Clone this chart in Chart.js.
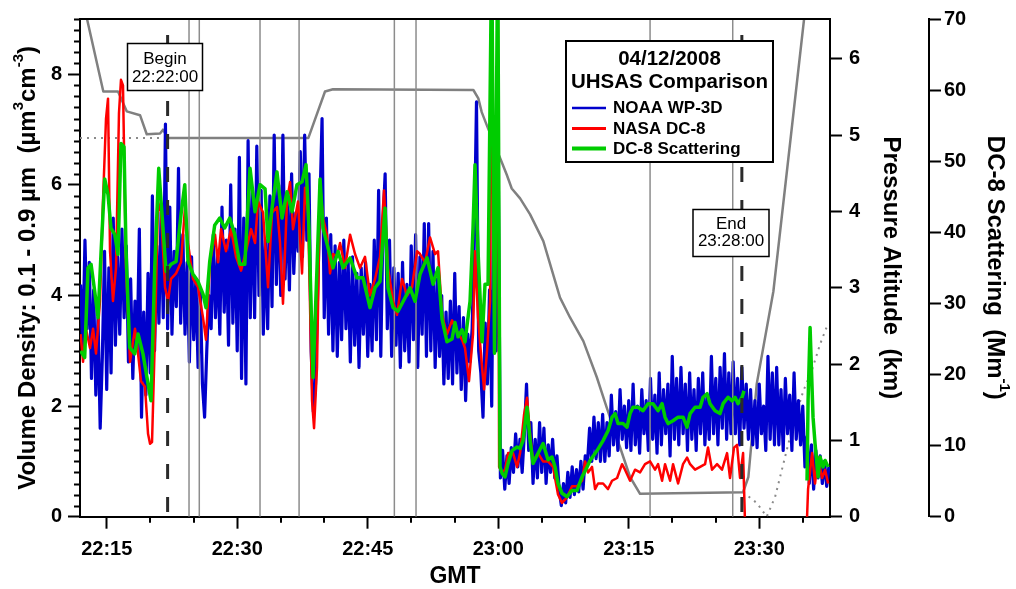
<!DOCTYPE html>
<html>
<head>
<meta charset="utf-8">
<script src="https://cdn.jsdelivr.net/npm/chart.js@4.4.1/dist/chart.umd.min.js"></script>
<style>
  html, body { margin: 0; padding: 0; background: #fff; }
  #wrap { width: 1016px; height: 589px; }
</style>
</head>
<body>
<div id="wrap"><canvas id="chart" width="1016" height="589"></canvas></div>
<script>
// All times are minutes after 22:00 GMT

// NOAA WP-3D UHSAS volume density (um3 cm-3), one sample every 0.25 min
const blueStart = 12.0;
const blueStep = 0.25;
const blueValues = [
  4.2,3.0,5.0,3.4,4.6,2.5,4.1,2.2,3.6,1.6,2.9,4.8,2.3,4.5,2.6,5.4,3.1,4.7,3.3,5.2,
  3.6,4.9,2.8,4.3,2.5,3.9,3.0,5.2,1.8,3.7,2.2,4.4,2.6,5.8,3.0,4.9,3.5,5.5,3.6,7.1,
  3.4,5.6,3.3,4.8,3.8,6.3,3.5,5.1,3.3,4.6,2.8,4.7,3.2,4.3,2.7,4.1,2.4,1.8,3.0,4.0,
  3.4,5.1,3.6,4.7,3.3,5.6,3.7,5.0,3.1,6.0,3.5,5.2,3.0,6.5,2.5,5.4,2.4,6.8,3.6,5.9,
  3.6,6.7,4.0,5.9,3.3,5.0,3.4,5.8,3.8,6.9,4.2,6.0,4.0,6.9,4.3,5.7,4.1,6.2,4.4,5.5,
  4.8,6.6,4.7,6.9,5.0,6.2,3.0,1.9,2.4,4.1,5.6,7.2,3.6,5.4,3.3,5.1,3.0,4.9,2.9,4.6,
  3.2,5.0,3.4,4.6,2.8,4.7,3.1,4.4,2.7,4.5,3.3,4.6,2.9,4.2,3.0,5.0,3.2,5.9,2.9,5.3,
  6.2,3.4,5.0,2.9,4.5,3.1,4.4,2.7,4.6,3.0,4.2,2.8,4.9,3.2,5.1,2.7,4.7,3.3,5.3,2.9,
  5.3,3.0,4.8,2.7,4.3,2.9,4.0,2.4,3.7,2.5,3.9,2.4,4.4,2.6,3.8,2.3,3.6,2.1,3.3,2.8,
  3.4,5.0,7.5,3.0,2.6,1.8,3.5,2.4,4.1,2.0,6.3,3.0,6.4,0.7,1.2,0.5,1.1,0.6,1.25,0.8,
  1.5,0.9,1.4,0.8,1.5,2.4,1.2,1.7,0.6,1.4,0.7,1.7,0.8,1.6,0.6,1.3,0.8,1.4,0.7,1.1,
  0.5,0.2,0.6,0.25,0.8,0.35,0.9,0.4,0.85,0.45,1.0,0.5,1.1,0.95,1.6,1.0,1.8,1.05,1.7,1.0,
  1.85,1.0,1.7,1.1,2.2,1.3,1.9,1.2,2.3,1.4,2.0,1.25,2.1,1.2,2.4,1.3,2.0,1.15,2.3,1.5,
  2.1,1.2,2.5,1.4,2.2,1.15,2.6,1.3,2.3,1.5,2.4,1.1,2.9,1.4,2.5,1.3,2.7,1.5,2.4,1.2,
  2.6,1.4,2.3,1.2,2.5,1.5,2.6,1.3,2.2,1.4,2.9,1.5,2.5,1.3,2.7,1.6,2.95,1.4,2.6,1.5,
  2.8,1.5,2.5,1.3,2.7,1.6,2.4,1.4,2.3,1.3,2.1,1.25,2.4,1.5,2.0,1.2,2.9,1.4,2.6,1.3,
  2.7,1.3,2.3,1.2,2.5,1.5,2.2,1.2,2.6,1.4,2.1,1.3,2.0,0.9,1.45,0.6,1.3,0.5,1.2,0.7,
  1.1,0.6,1.0,0.55,0.9
];

// NASA DC-8 UHSAS volume density (um3 cm-3)
const redTimes = [
  12.0,12.28,12.62,13.08,13.43,13.77,14.23,14.57,14.92,15.15,15.38,15.72,16.07,16.41,16.64,16.87,
  17.22,17.68,18.25,18.6,18.94,19.4,19.75,19.98,20.21,20.55,20.9,21.24,21.7,22.05,22.39,22.97,
  23.54,24.0,24.34,24.92,25.49,26.07,26.41,26.87,27.45,27.79,28.14,28.71,29.29,29.86,30.44,31.01,
  31.59,32.05,32.39,32.97,33.54,34.0,34.57,34.92,35.26,35.72,36.07,36.41,36.99,37.45,37.79,38.14,
  38.6,38.83,39.17,39.52,39.86,40.32,40.67,41.01,41.47,41.82,42.39,42.97,43.54,44.11,44.69,45.26,
  45.84,46.41,46.87,47.33,47.91,48.37,48.94,49.52,50.09,50.67,51.01,51.59,52.16,52.74,53.08,53.54,
  54.11,54.69,55.26,55.84,56.18,56.64,57.1,57.33,57.68,58.14,58.37,58.71,59.06,59.3,59.95,60.1,
  60.44,60.78,61.13,61.7,62.16,62.51,62.97,63.31,63.66,64.0,64.57,65.15,65.72,66.3,66.87,67.33,
  67.91,68.48,69.06,69.63,69.98,70.32,70.78,71.13,71.47,72.05,72.62,73.08,73.66,74.23,74.57,75.15,
  75.72,76.3,76.87,77.45,78.02,78.37,78.83,79.17,79.75,80.09,80.67,81.24,81.7,82.05,82.62,83.2,
  83.77,84.11,84.57,85.15,85.72,86.3,86.64,87.1,87.45,87.79,88.14,88.43,92.0,95.38,95.61,96.07,
  96.41,96.76,97.22,97.57,97.91
];
const redValues = [
  3.3,2.8,3.4,3.05,3.4,2.95,3.9,5.7,7.2,7.56,4.8,3.9,4.5,7.3,7.9,7.8,
  4.5,2.8,3.4,2.95,2.45,2.35,1.5,1.32,1.35,3.3,5.7,5.5,4.15,3.9,4.3,4.4,
  4.6,5.6,4.95,4.3,4.15,3.6,3.2,4.6,5.1,4.6,5.2,4.8,5.2,4.7,4.45,4.8,
  5.2,4.95,5.7,5.5,4.15,5.5,5.6,4.95,3.85,5.7,6.05,5.2,5.7,4.4,5.95,5.5,
  2.1,1.6,2.7,6.0,5.4,5.1,4.4,4.75,4.7,4.95,4.5,5.1,4.75,4.5,4.7,4.0,
  4.3,4.7,5.9,4.5,3.9,3.65,4.3,4.0,4.15,4.8,4.75,4.6,5.05,4.75,4.8,3.65,
  3.3,3.55,3.35,3.2,3.05,2.45,3.3,4.8,3.6,2.7,2.3,3.0,3.9,10,10,0.9,
  0.8,0.85,1.15,1.15,0.9,1.15,1.85,2.15,1.5,1.0,1.15,1.0,1.0,0.9,0.4,0.25,
  0.35,0.55,0.55,0.65,1.0,0.8,0.9,0.5,0.6,0.6,0.5,0.65,0.7,0.95,0.85,0.65,
  0.85,0.8,0.95,1.0,0.85,0.95,0.65,0.95,0.65,0.95,0.6,0.95,1.07,0.95,0.85,0.9,
  0.95,1.25,0.85,0.95,0.85,1.15,0.7,1.25,1.3,0.7,1.15,-0.5,null,-0.5,0.5,1.15,
  0.6,1.07,0.7,0.85,0.6
];

// DC-8 light scattering (Mm-1)
const scatTimes = [
  12.0,12.47,12.85,13.2,13.62,14.0,14.34,14.77,15.15,15.49,15.92,16.3,16.64,16.99,17.22,17.64,
  18.22,18.6,19.17,19.75,20.09,20.52,20.98,21.47,21.82,22.39,22.97,23.54,23.97,24.34,24.92,25.49,
  26.07,26.41,26.84,27.41,27.99,28.56,29.14,29.72,30.29,30.87,31.47,32.05,32.62,33.2,33.54,34.0,
  34.57,35.15,35.72,36.3,36.87,37.45,37.91,38.25,38.71,39.17,39.52,39.86,40.44,41.01,41.59,42.16,
  42.97,43.77,44.46,45.26,45.84,46.41,46.99,47.33,47.91,48.48,49.29,49.86,50.44,51.01,51.82,52.51,
  53.08,53.54,54.11,54.69,55.03,55.38,55.84,56.18,56.76,57.1,57.33,57.68,58.14,58.48,58.83,59.25,
  59.57,59.94,60.21,60.44,60.78,61.13,61.59,62.16,62.51,62.85,63.31,63.66,64.0,64.57,65.15,65.72,
  66.18,66.53,66.87,67.33,67.91,68.48,69.06,69.63,70.21,70.55,71.36,72.05,72.62,73.08,73.43,73.77,
  74.34,74.8,75.15,75.49,76.07,76.64,77.22,77.79,78.37,78.83,79.17,79.52,80.09,80.67,81.24,81.7,
  82.05,82.62,83.2,83.54,84.0,84.34,84.92,85.49,85.84,86.41,86.87,87.22,87.56,88.02,88.25,92.0,
  95.49,95.61,95.84,96.18,96.41,96.76,96.99,97.33,97.57,97.91
];
const scatValues = [
  23.3,22.4,35,35.5,31.7,28,36.9,47.5,45.3,40.6,39.7,36.9,52.5,52,37.3,23.8,
  22.9,25.7,22.9,18.7,16.3,35,49,40.6,34.5,35.5,35.9,42.5,46.7,35.9,34.1,33.1,
  31.3,29.4,35.9,41,42,40.6,42,39.7,35.5,35.5,49,42.9,46.7,46.1,38.7,43.4,
  48.5,42,45.7,42.9,46.7,47.1,49.5,40.6,19.6,35,47.5,40.6,37.8,35,37.3,35,
  36.4,33.6,33.6,29.4,32.2,33.1,43.4,32.2,29.4,28.9,30.8,32.2,30.3,34.1,36.4,32.7,
  35,27.8,24.6,25,27.3,25.3,26.3,24.6,30.3,40.6,49.5,37.3,24.6,32.7,32.7,80,
  23,80,7,6.1,5.6,7.5,9.3,9.8,9.6,10.7,15.4,10.7,7.5,8.9,10.3,8,
  8.4,7,4.7,3.3,2.8,3.7,3.7,5.6,7,7.9,9.3,10.7,12.1,14,14.5,13.1,
  13.1,12.6,14.5,15.4,15.4,14.9,15.9,15.9,14.9,15.9,14,13.1,13.5,14,14,12.6,
  14.5,15.4,15.4,16.8,17.3,15.9,14.9,14.5,15.9,16.8,16.3,16.8,15.9,16.8,17.7,null,
  5.1,16.3,26.6,14,10.3,5.6,8.4,7,7.9,7
];

// Pressure altitude (km): WP-3D solid, DC-8 dotted where it differs
const altTimes = [
  11.93,14.61,16.3,17.3,18.83,19.6,21.13,21.47,22.05,38.17,40.09,41.01,57.14,57.71,58.1,58.68,
  59.44,60.21,60.98,61.55,62.51,63.66,65.18,67.1,68.25,69.78,71.32,72.47,73.23,74.0,75.15,76.3,
  88.14,88.75,89.71,91.62,95.15,95.72
];
const altValues = [
  6.93,5.57,5.57,5.31,5.26,5.01,5.02,5.07,4.96,4.96,5.57,5.6,5.59,5.48,5.3,5.13,
  4.91,4.7,4.48,4.3,4.17,3.96,3.61,2.87,2.61,2.3,1.83,1.43,1.17,0.91,0.52,0.3,
  0.32,0.52,1.74,2.95,6.52,7.0
];
const alt2Times = [11.93,22.05,50.0,88.14,89.71,90.86,91.82,92.59,93.35,94.12,95.07,96.03,96.99,97.94];
const alt2Values = [4.96,4.96,null,0.32,0.18,0.0,0.26,0.61,0.96,1.3,1.65,1.91,2.26,2.54];

// event markers and the comparison window
const markTimes = [24.46,25.64,32.62,37.11,48.06,50.55,77.45,86.95];
const beginTime = 22;
const endTime = 88;

const FONT = '"Liberation Sans", Arial, Helvetica, sans-serif';
Chart.defaults.font.family = FONT;
Chart.defaults.color = '#000';

const pts = (ts, vs) => ts.map((t, i) => ({x: t, y: vs[i]}));
const bluePoints = blueValues.map((v, i) => ({x: blueStart + i * blueStep, y: v}));

const markPoints = [];
markTimes.forEach(t => markPoints.push({x: t, y: 0}, {x: t, y: 9}, {x: t, y: null}));
const dashPoints = [];
[beginTime, endTime].forEach(t => dashPoints.push({x: t, y: 8.71}, {x: t, y: 0}, {x: t, y: null}));

function clock(m) {
  const h = 22 + Math.floor(m / 60);
  return h + ':' + String(m % 60).padStart(2, '0');
}
const isEven = v => Math.abs(v / 2 - Math.round(v / 2)) < 1e-6;
const isQuarter = v => Math.abs(v % 15) < 1e-6;

const lineBase = {pointRadius: 0, tension: 0, fill: false, spanGaps: false, borderJoinStyle: 'round'};

function richText(ctx, parts, size, cx, cy, angle) {
  const big = `bold ${size}px ${FONT}`;
  const small = `bold ${Math.round(size * 0.62)}px ${FONT}`;
  ctx.save();
  ctx.translate(cx, cy);
  ctx.rotate(angle);
  let total = 0;
  parts.forEach(p => { ctx.font = p.sup ? small : big; total += ctx.measureText(p.t).width; });
  let x = -total / 2;
  ctx.textAlign = 'left';
  ctx.textBaseline = 'middle';
  ctx.fillStyle = '#000';
  parts.forEach(p => {
    ctx.font = p.sup ? small : big;
    ctx.fillText(p.t, x, p.sup ? -size * 0.4 : 0);
    x += ctx.measureText(p.t).width;
  });
  ctx.restore();
}

function box(ctx, x, y, w, h, lw) {
  ctx.fillStyle = '#fff';
  ctx.fillRect(x, y, w, h);
  ctx.strokeStyle = '#000';
  ctx.lineWidth = lw;
  ctx.strokeRect(x, y, w, h);
}

const overlay = {
  id: 'overlay',
  afterDraw(chart) {
    const {ctx, chartArea: a, scales} = chart;
    ctx.save();
    ctx.strokeStyle = '#000';
    ctx.lineWidth = 2;
    ctx.beginPath();
    ctx.moveTo(a.left - 1, a.top);
    ctx.lineTo(a.right + 1, a.top);
    ctx.stroke();

    // minor ticks
    ctx.beginPath();
    scales.y.ticks.forEach(t => {
      if (isEven(t.value)) return;
      const py = Math.round(scales.y.getPixelForValue(t.value)) + 0.5;
      ctx.moveTo(a.left - 6, py);
      ctx.lineTo(a.left, py);
    });
    scales.x.ticks.forEach(t => {
      if (isQuarter(t.value)) return;
      const px = Math.round(scales.x.getPixelForValue(t.value));
      ctx.moveTo(px, a.bottom);
      ctx.lineTo(px, a.bottom + 6);
    });
    ctx.stroke();

    // axis titles
    richText(ctx, [{t: 'Volume Density: 0.1 - 0.9 µm  (µm'}, {t: '3', sup: true}, {t: 'cm'}, {t: '-3', sup: true}, {t: ')'}],
      24, 28, (a.top + a.bottom) / 2, -Math.PI / 2);
    richText(ctx, [{t: 'Pressure Altitude  (km)'}], 24, 891, (a.top + a.bottom) / 2, Math.PI / 2);
    richText(ctx, [{t: 'DC-8 Scattering  (Mm'}, {t: '-1', sup: true}, {t: ')'}], 24, 995, (a.top + a.bottom) / 2, Math.PI / 2);
    richText(ctx, [{t: 'GMT'}], 23, (a.left + a.right) / 2, 577, 0);

    // window annotations
    ctx.textAlign = 'center';
    ctx.textBaseline = 'middle';
    box(ctx, 127.5, 43.5, 75, 47, 1.5);
    ctx.fillStyle = '#000';
    ctx.font = `17px ${FONT}`;
    ctx.fillText('Begin', 165, 59);
    ctx.fillText('22:22:00', 165, 77);
    box(ctx, 693, 209.5, 76, 47, 1.5);
    ctx.fillStyle = '#000';
    ctx.fillText('End', 731, 224);
    ctx.fillText('23:28:00', 731, 241);

    // legend
    box(ctx, 566, 41, 207, 121, 2);
    ctx.fillStyle = '#000';
    ctx.font = `bold 20.5px ${FONT}`;
    ctx.fillText('04/12/2008', 669.5, 59);
    ctx.fillText('UHSAS Comparison', 669.5, 82.5);
    const entries = [
      ['NOAA WP-3D', '#0000cc', 2.5, 108],
      ['NASA DC-8', '#ff0000', 3, 128.5],
      ['DC-8 Scattering', '#00cc00', 4, 148.5]
    ];
    ctx.textAlign = 'left';
    ctx.font = `bold 17px ${FONT}`;
    entries.forEach(([label, color, w, y]) => {
      ctx.strokeStyle = color;
      ctx.lineWidth = w;
      ctx.beginPath();
      ctx.moveTo(572, y);
      ctx.lineTo(606, y);
      ctx.stroke();
      ctx.fillStyle = '#000';
      ctx.fillText(label, 613, y + 0.5);
    });
    ctx.restore();
  }
};

const tickFont = {size: 20, weight: 'bold'};

new Chart(document.getElementById('chart'), {
  type: 'line',
  data: {
    datasets: [
      {...lineBase, data: markPoints, yAxisID: 'y', borderColor: '#8c8c8c', borderWidth: 1.5, order: 3},
      {...lineBase, data: dashPoints, yAxisID: 'y', borderColor: '#2a2a2a', borderWidth: 3, borderDash: [15, 18], borderJoinStyle: 'miter', borderCapStyle: 'butt', order: 0},
      {...lineBase, label: 'DC-8 Scattering', data: pts(scatTimes, scatValues), yAxisID: 'y2', borderColor: '#00cc00', borderWidth: 3.5, order: 1},
      {...lineBase, label: 'NASA DC-8', data: pts(redTimes, redValues), yAxisID: 'y', borderColor: '#ff0000', borderWidth: 2.5, order: 2},
      {...lineBase, label: 'NOAA WP-3D', data: bluePoints, yAxisID: 'y', borderColor: '#0000cc', borderWidth: 3.2, order: 4},
      {...lineBase, data: pts(alt2Times, alt2Values), yAxisID: 'y1', borderColor: '#8a8a8a', borderWidth: 2, borderDash: [2, 5], order: 6},
      {...lineBase, data: pts(altTimes, altValues), yAxisID: 'y1', borderColor: '#808080', borderWidth: 2.5, order: 5}
    ]
  },
  options: {
    responsive: false,
    animation: false,
    devicePixelRatio: 1,
    events: [],
    layout: {padding: {top: 17, left: 0, right: 0, bottom: 0}},
    plugins: {legend: {display: false}, tooltip: {enabled: false}},
    scales: {
      x: {
        type: 'linear',
        min: 11.93,
        max: 98.13,
        afterFit: s => { s.height = 72.3; },
        ticks: {
          stepSize: 5, includeBounds: false, autoSkip: false, maxRotation: 0, padding: 9, font: tickFont,
          callback: v => isQuarter(v) ? clock(v) : ''
        },
        grid: {drawOnChartArea: false, tickLength: 12, tickWidth: 2,
          tickColor: c => isQuarter(c.tick.value) ? '#000' : 'rgba(0,0,0,0)'},
        border: {display: true, color: '#000', width: 2}
      },
      y: {
        position: 'left',
        min: 0,
        max: 9,
        afterFit: s => { s.width = 80; },
        ticks: {
          stepSize: 0.2, includeBounds: false, autoSkip: false, padding: 6, font: tickFont,
          callback: v => isEven(v) ? String(Math.round(v)) : ''
        },
        grid: {drawOnChartArea: false, tickLength: 12, tickWidth: 2,
          tickColor: c => isEven(c.tick.value) ? '#000' : 'rgba(0,0,0,0)'},
        border: {display: true, color: '#000', width: 2}
      },
      y1: {
        position: 'right',
        min: 0,
        max: 6.52,
        afterFit: s => { s.width = 99; },
        ticks: {stepSize: 1, includeBounds: false, padding: 7, font: tickFont},
        grid: {drawOnChartArea: false, tickLength: 12, tickWidth: 2, tickColor: '#000'},
        border: {display: true, color: '#000', width: 2}
      },
      y2: {
        position: 'right',
        min: 0,
        max: 70,
        afterFit: s => { s.width = 87; },
        ticks: {stepSize: 10, includeBounds: false, padding: 3, font: tickFont},
        grid: {drawOnChartArea: false, tickLength: 12, tickWidth: 2, tickColor: '#000'},
        border: {display: true, color: '#000', width: 2}
      }
    }
  },
  plugins: [overlay]
});
</script>
</body>
</html>
